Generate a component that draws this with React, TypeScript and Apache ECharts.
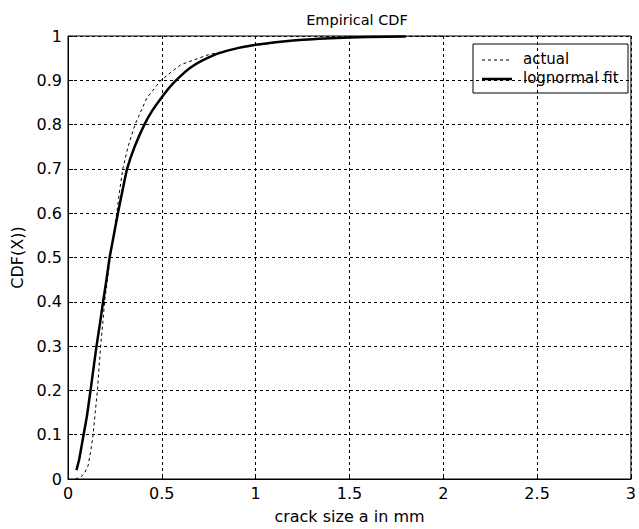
import React, { useEffect, useRef } from "react";
import * as echarts from "echarts";

const actualX = [0.04, 0.07, 0.09, 0.107, 0.12, 0.134, 0.145, 0.157, 0.165, 0.174, 0.185, 0.195, 0.213, 0.225, 0.26, 0.275, 0.292, 0.32, 0.357, 0.42, 0.495, 0.6, 0.75, 0.9, 1.0, 1.2, 1.5, 1.75, 2.0];
const actualY = [0.0, 0.005, 0.015, 0.03, 0.06, 0.1, 0.15, 0.2, 0.25, 0.3, 0.35, 0.4, 0.46, 0.5, 0.6, 0.65, 0.7, 0.75, 0.8, 0.86, 0.9, 0.935, 0.958, 0.972, 0.979, 0.99, 0.997, 0.999, 1.0];

const fitX = [0.045, 0.06, 0.081, 0.1, 0.12, 0.136, 0.152, 0.17, 0.187, 0.205, 0.222, 0.244, 0.266, 0.29, 0.315, 0.355, 0.407, 0.45, 0.5, 0.56, 0.65, 0.75, 0.85, 1.0, 1.2, 1.4, 1.6, 1.8];
const fitY = [0.02, 0.045, 0.095, 0.14, 0.2, 0.25, 0.3, 0.35, 0.4, 0.45, 0.5, 0.55, 0.6, 0.65, 0.7, 0.75, 0.8, 0.832, 0.862, 0.893, 0.928, 0.952, 0.967, 0.98, 0.99, 0.995, 0.998, 0.999];

const legendNames = ["actual", "lognormal fit"];

const FONT = "DejaVu Sans, Verdana, sans-serif";

export default function App() {
  const ref = useRef<HTMLDivElement>(null);
  useEffect(() => {
    const chart = echarts.init(ref.current!, null, { renderer: "svg" });
    const grid = { type: [3, 3], color: "#000", width: 1 };
    const txt = { fontFamily: FONT, fontSize: 16, color: "#000" };
    chart.setOption({
      animation: false,
      backgroundColor: "#fff",
      textStyle: { fontFamily: FONT, color: "#000" },
      title: {
        text: "Empirical CDF",
        left: 352,
        top: 7,
        textAlign: "center",
        textStyle: { fontFamily: FONT, fontSize: 14.5, fontWeight: "normal", color: "#000" },
      },
      grid: { left: 68, right: 3, top: 36, bottom: 44, show: true, borderColor: "#000", borderWidth: 1, backgroundColor: "#fff" },
      xAxis: {
        type: "value",
        min: 0,
        max: 3,
        interval: 0.5,
        name: "crack size a in mm",
        nameLocation: "middle",
        nameGap: 29,
        nameTextStyle: txt,
        axisLine: { show: true, lineStyle: { color: "#000", width: 1 } },
        axisTick: { show: true, inside: true, length: 5, lineStyle: { color: "#000" } },
        axisLabel: { ...txt, margin: 6 },
        splitLine: { show: true, lineStyle: grid },
      },
      yAxis: {
        type: "value",
        min: 0,
        max: 1,
        interval: 0.1,
        name: "CDF(X))",
        nameLocation: "middle",
        nameGap: 43,
        nameTextStyle: txt,
        axisLine: { show: true, lineStyle: { color: "#000", width: 1 } },
        axisTick: { show: true, inside: true, length: 5, lineStyle: { color: "#000" } },
        axisLabel: { ...txt, margin: 6 },
        splitLine: { show: true, lineStyle: grid },
      },
      graphic: [
        {
          type: "group",
          z: 100,
          children: [
            { type: "rect", shape: { x: 473, y: 44, width: 155, height: 49 }, style: { fill: "#fff", stroke: "#000", lineWidth: 1 } },
            { type: "line", shape: { x1: 482, y1: 60, x2: 512, y2: 60 }, style: { stroke: "#000", lineWidth: 1, lineDash: [3, 3] } },
            { type: "line", shape: { x1: 482, y1: 79, x2: 512, y2: 79 }, style: { stroke: "#000", lineWidth: 2.5 } },
            { type: "text", x: 523, y: 59, style: { text: legendNames[0], font: `15px ${FONT}`, fill: "#000", verticalAlign: "middle", align: "left" } },
            { type: "text", x: 523, y: 78, style: { text: legendNames[1], font: `15px ${FONT}`, fill: "#000", verticalAlign: "middle", align: "left" } },
          ],
        },
      ],
      series: [
        {
          name: legendNames[0],
          type: "line",
          showSymbol: false,
          symbol: "none",
          data: actualX.map((x, i) => [x, actualY[i]]),
          lineStyle: { color: "#000", width: 1, type: [3, 3] },
          itemStyle: { color: "#000" },
          z: 3,
        },
        {
          name: legendNames[1],
          type: "line",
          showSymbol: false,
          symbol: "none",
          smooth: 0.2,
          data: fitX.map((x, i) => [x, fitY[i]]),
          lineStyle: { color: "#000", width: 2.5 },
          itemStyle: { color: "#000" },
          z: 4,
        },
      ],
    });
    return () => chart.dispose();
  }, []);
  return <div ref={ref} style={{ position: "fixed", left: 0, top: 0, width: 639, height: 529 }} />;
}
